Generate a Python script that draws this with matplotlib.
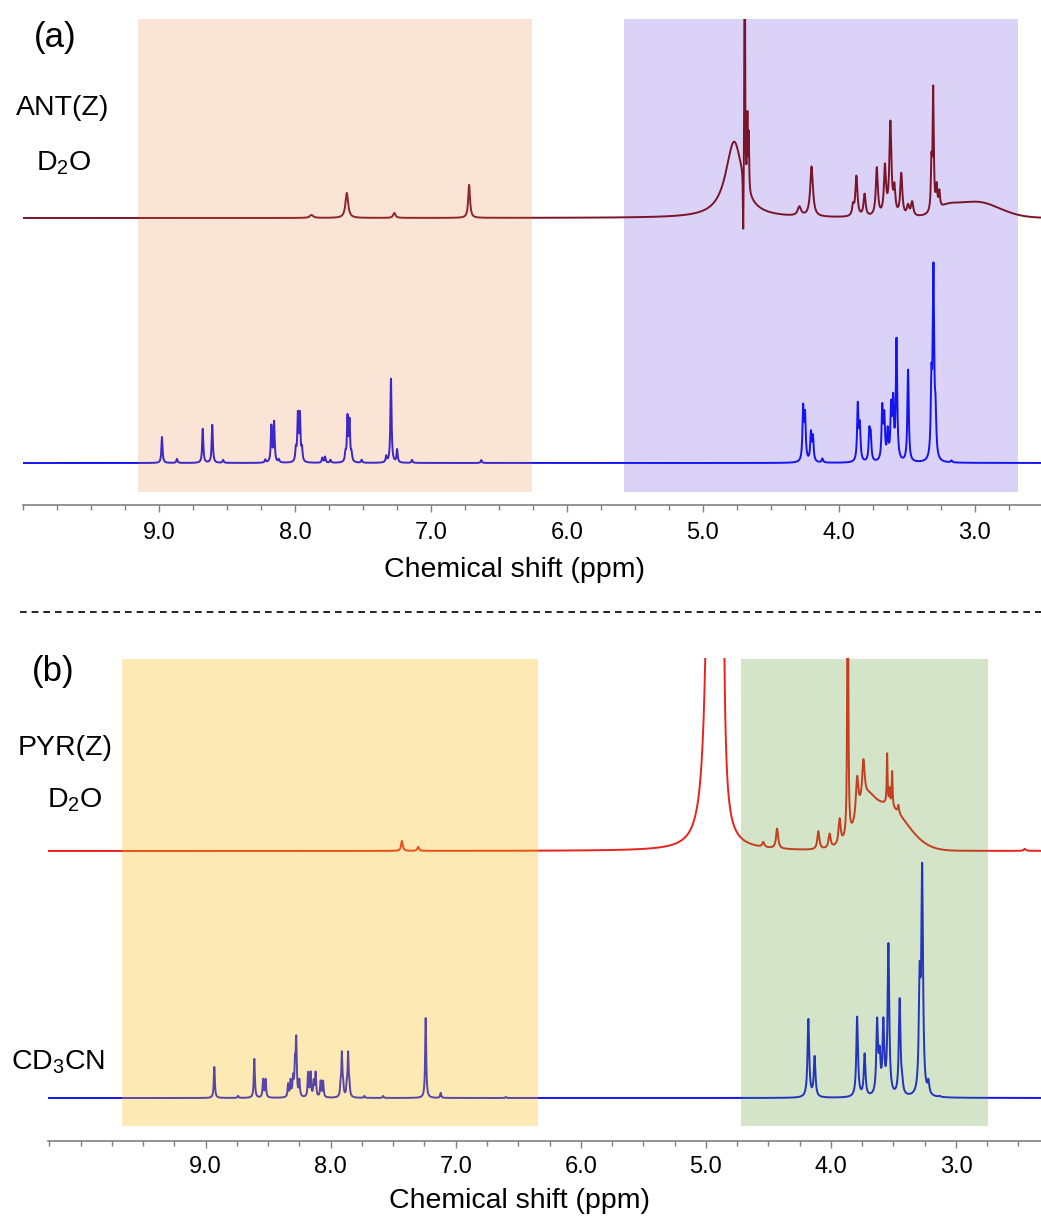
import numpy as np
import matplotlib
matplotlib.use('Agg')
import matplotlib.pyplot as plt
from matplotlib.ticker import FixedLocator, MultipleLocator, FormatStrFormatter
from matplotlib.lines import Line2D

plt.rcParams['font.family'] = ['Liberation Sans', 'DejaVu Sans']
plt.rcParams['mathtext.fontset'] = 'custom'
plt.rcParams['mathtext.rm'] = 'Liberation Sans'

# ---------------- data (peak position ppm, height, half width) ----------------
# (a) ANT(Z) in D2O
ant_d2o_ppm = [7.88, 7.62, 7.27, 6.72, 4.77, 4.692, 4.703, 4.672, 4.662, 4.29, 4.20,
               3.895, 3.87, 3.81, 3.72, 3.66, 3.62, 3.59, 3.54, 3.49, 3.46,
               3.318, 3.305, 3.28, 3.26]
ant_d2o_int = [3, 25, 5, 33, 76, 500, -70, 70, 55, 9, 50,
               10, 40, 22, 48, 48, 92, 25, 42, 10, 14,
               45, 120, 22, 16]
ant_d2o_hw = [0.015, 0.012, 0.01, 0.008, 0.075, 0.002, 0.003, 0.003, 0.003, 0.015, 0.012,
              0.008, 0.009, 0.009, 0.009, 0.009, 0.009, 0.008, 0.009, 0.01, 0.01,
              0.005, 0.005, 0.006, 0.006]
ant_d2o_broad_ppm = [2.99, 3.2]
ant_d2o_broad_int = [16, 6]
ant_d2o_broad_sd = [0.17, 0.07]

# (a) ANT(Z) in CD3CN (blue)
ant_cd3cn_ppm = [8.98, 8.87, 8.68, 8.61, 8.53, 8.22, 8.175, 8.155, 8.12,
                 7.995, 7.98, 7.965, 7.95, 7.80, 7.78, 7.74, 7.63, 7.615, 7.60, 7.585,
                 7.51, 7.33, 7.295, 7.25, 7.14, 6.63,
                 4.262, 4.248, 4.205, 4.19, 4.12, 3.86, 3.845, 3.775, 3.765,
                 3.68, 3.665, 3.64, 3.615, 3.60, 3.575, 3.49, 3.318, 3.303, 3.288, 3.17]
ant_cd3cn_int = [26, 4, 34, 38, 3, 3, 36, 40, 3,
                 12, 46, 46, 12, 5, 6, 3, 8, 44, 40, 8,
                 3, 6, 84, 13, 3, 3,
                 52, 44, 28, 24, 4, 56, 34, 29, 24,
                 52, 42, 28, 50, 55, 120, 92, 72, 185, 40, 2]
ant_cd3cn_hw = [0.005] * 26 + [0.006] * 20

# (b) PYR(Z) in D2O (red)
pyr_d2o_ppm = [7.43, 7.30, 4.96, 4.875, 4.54, 4.43, 4.10, 4.01, 3.93, 3.865,
               3.79, 3.74, 3.55, 3.53, 3.51, 3.46, 2.45]
pyr_d2o_int = [10, 4, 600, 1000, 5, 20, 18, 14, 25, 400,
               40, 40, 50, 15, 35, 8, 2]
pyr_d2o_hw = [0.008, 0.008, 0.03, 0.01, 0.01, 0.01, 0.01, 0.01, 0.01, 0.004,
              0.012, 0.012, 0.004, 0.004, 0.004, 0.006, 0.01]
pyr_d2o_broad_ppm = [3.57, 3.72]
pyr_d2o_broad_int = [46, 22]
pyr_d2o_broad_sd = [0.17, 0.06]

# (b) PYR(Z) in CD3CN (blue)
pyr_cd3cn_ppm = [8.93, 8.74, 8.61, 8.54, 8.52, 8.34, 8.32, 8.30, 8.285, 8.275, 8.25,
                 8.18, 8.16, 8.135, 8.12, 8.08, 8.06, 7.92, 7.91, 7.90, 7.87, 7.86, 7.85,
                 7.73, 7.58, 7.24, 7.12, 6.60,
                 4.18, 4.13, 3.79, 3.73, 3.63, 3.61, 3.58, 3.54, 3.45, 3.43,
                 3.29, 3.27, 3.22, 3.13]
pyr_cd3cn_int = [31, 2, 39, 18, 18, 13, 16, 18, 30, 55, 16,
                 24, 24, 15, 24, 16, 16, 10, 42, 10, 10, 42, 10,
                 2, 2, 80, 5, 1,
                 78, 40, 80, 42, 72, 35, 70, 150, 96, 10,
                 105, 220, 12, 1]
pyr_cd3cn_hw = [0.005] * 28 + [0.008] * 14

# ---------------- build spectra ----------------
ppm = np.arange(2.2, 10.4, 0.0005)


def spectrum(centers, heights, widths, bc=(), bh=(), bs=()):
    y = np.zeros_like(ppm)
    for c, h, w in zip(centers, heights, widths):
        y += h * w ** 2 / (w ** 2 + (ppm - c) ** 2)
    for c, h, s in zip(bc, bh, bs):
        y += h * np.exp(-0.5 * ((ppm - c) / s) ** 2)
    return y


ant_red = spectrum(ant_d2o_ppm, ant_d2o_int, ant_d2o_hw,
                   ant_d2o_broad_ppm, ant_d2o_broad_int, ant_d2o_broad_sd)
ant_blue = spectrum(ant_cd3cn_ppm, ant_cd3cn_int, ant_cd3cn_hw)
pyr_red = spectrum(pyr_d2o_ppm, pyr_d2o_int, pyr_d2o_hw,
                   pyr_d2o_broad_ppm, pyr_d2o_broad_int, pyr_d2o_broad_sd)
pyr_blue = spectrum(pyr_cd3cn_ppm, pyr_cd3cn_int, pyr_cd3cn_hw)

# ---------------- figure ----------------
W, H = 1041, 1220
fig = plt.figure(figsize=(W / 100, H / 100), dpi=100)


def style_axis(ax, pad):
    for s in ['top', 'left', 'right']:
        ax.spines[s].set_visible(False)
    ax.spines['bottom'].set_color('#808080')
    ax.spines['bottom'].set_linewidth(1.2)
    ax.set_yticks([])
    ax.xaxis.set_major_locator(FixedLocator([9, 8, 7, 6, 5, 4, 3]))
    ax.xaxis.set_major_formatter(FormatStrFormatter('%.1f'))
    ax.xaxis.set_minor_locator(MultipleLocator(0.25))
    ax.tick_params(axis='x', which='major', length=5, width=1, color='#808080',
                   labelsize=17, pad=pad)
    ax.tick_params(axis='x', which='minor', length=3.5, width=1, color='#808080')
    ax.patch.set_alpha(0)


# panel (a)
ax_a = fig.add_axes([22.7 / W, 1 - 505 / H, (1041 - 22.7) / W, (505 - 19) / H])
ax_a.set_xlim(10.005, 2.512)
ax_a.set_ylim(0, 486)
ax_a.axvspan(5.58, 2.68, ymin=0.027, ymax=1, color='#dbd3f7', lw=0, zorder=0)
ax_a.axvspan(9.16, 6.26, ymin=0.027, ymax=1, color='#e1782d', alpha=0.2, lw=0, zorder=3)
ax_a.plot(ppm, ant_red + 287, color='#7a1428', lw=1.4, zorder=2)
ax_a.plot(ppm, ant_blue + 42, color='#1414f0', lw=1.4, zorder=2)
style_axis(ax_a, 7)
ax_a.set_xlabel('Chemical shift (ppm)', fontsize=20.5)
ax_a.xaxis.label.set_va('center')
ax_a.xaxis.set_label_coords(0.483, -0.134)

# panel (b)
ax_b = fig.add_axes([48 / W, 1 - 1141 / H, 993 / W, (1141 - 658) / H])
ax_b.set_xlim(10.26, 2.32)
ax_b.set_ylim(0, 483)
ax_b.axvspan(9.67, 6.34, ymin=0.031, ymax=0.998, color='#f8b908', alpha=0.3, lw=0, zorder=3)
ax_b.axvspan(4.72, 2.74, ymin=0.031, ymax=0.998, color='#539727', alpha=0.25, lw=0, zorder=3)
ax_b.plot(ppm, pyr_red + 290, color='#e8231e', lw=1.4, zorder=2)
ax_b.plot(ppm, pyr_blue + 43, color='#1414f0', lw=1.4, zorder=2)
style_axis(ax_b, 6)
ax_b.set_xlabel('Chemical shift (ppm)', fontsize=20.5)
ax_b.xaxis.label.set_va('center')
ax_b.xaxis.set_label_coords(0.475, -0.124)


# labels
def label(x, y, s, size):
    fig.text(x / W, 1 - y / H, s, fontsize=size, ha='center', va='baseline')


label(55, 47, '(a)', 25)
label(63, 115, 'ANT(Z)', 20.5)
label(64, 170, r'D$_2$O', 20.5)
label(53, 681, '(b)', 25)
label(65, 755, 'PYR(Z)', 20.5)
label(75, 807, r'D$_2$O', 20.5)
label(58, 1069, r'CD$_3$CN', 20.5)

# dashed separator
fig.add_artist(Line2D([20 / W, 1], [1 - 612 / H, 1 - 612 / H], transform=fig.transFigure,
                      color='black', lw=1.2, linestyle=(0, (4, 3))))

fig.savefig('out.png', dpi=100)
